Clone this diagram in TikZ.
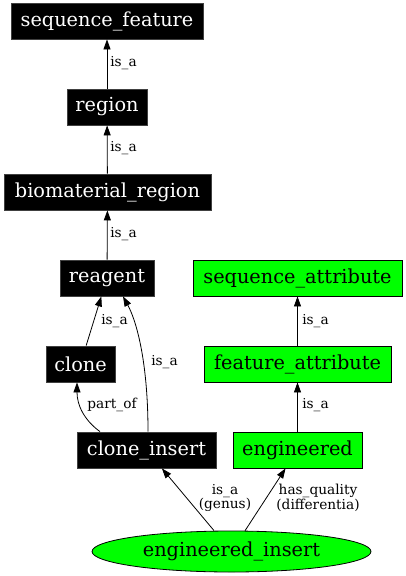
\documentclass[tikz,border=0pt]{standalone}
\usepackage{fontspec}
\usetikzlibrary{arrows.meta,shapes.geometric}
\newfontfamily\gvfont{DejaVu Serif}
\tikzset{
  blackbox/.style={rectangle,fill=black,draw=black!75,line width=0.8pt,text=white,inner sep=0pt,minimum height=36pt,font=\gvfont\fontsize{19.3}{21}\selectfont},
  greenbox/.style={rectangle,fill=green,draw=black,line width=0.8pt,text=black,inner sep=0pt,minimum height=36pt,font=\gvfont\fontsize{19.3}{21}\selectfont},
  greenell/.style={ellipse,fill=green,draw=black,line width=0.8pt,text=black,inner sep=0pt,font=\gvfont\fontsize{19.3}{21}\selectfont},
  edge/.style={draw=black,line width=0.8pt,-{Triangle[length=10pt,width=7pt]}},
  elabel/.style={inner sep=0pt,align=center,font=\gvfont\fontsize{13.7}{14.5}\selectfont}
}
\begin{document}
\begin{tikzpicture}[x=1pt,y=-1pt]
\useasboundingbox (0,0) rectangle (406,576);
\node[blackbox,minimum width=192pt] (sf) at (107,21) {sequence\_feature};
\node[blackbox,minimum width=80pt] (region) at (107,107) {region};
\node[blackbox,minimum width=207pt] (bio) at (107.5,192) {biomaterial\_region};
\node[blackbox,minimum width=94pt] (reagent) at (107,278) {reagent};
\node[blackbox,minimum width=69pt] (clone) at (80.5,364) {clone};
\node[blackbox,minimum width=139pt] (ci) at (146.5,450) {clone\_insert};
\node[greenbox,minimum width=209pt] (sa) at (297.5,278) {sequence\_attribute};
\node[greenbox,minimum width=187pt] (fa) at (297.5,364) {feature\_attribute};
\node[greenbox,minimum width=129pt] (eng) at (297.5,450) {engineered};
\node[greenell,minimum width=279pt,minimum height=41pt] (ei) at (231.5,551.5) {engineered\_insert};

\draw[edge] (region) -- (sf);
\node[elabel] (l1) at (123.5,63) {is\_a};
\draw[edge] (bio) -- (region);
\node[elabel] (l2) at (123.5,148) {is\_a};
\draw[edge] (reagent) -- (bio);
\node[elabel] (l3) at (123.5,234) {is\_a};
\draw[edge] (clone) -- (reagent);
\node[elabel] (l4) at (114.5,321) {is\_a};
\draw[edge] ([xshift=1.5pt]ci.north) .. controls (148,360) and (136,320) .. ([xshift=16pt]reagent.south);
\node[elabel] (l5) at (164.5,362) {is\_a};
\draw[edge] ([xshift=-46.5pt]ci.north) .. controls (84,420) and (77,405) .. ([xshift=-3.5pt]clone.south);
\node[elabel] (l6) at (112,405) {part\_of};
\draw[edge] (fa) -- (sa);
\node[elabel] (l7) at (315.5,321) {is\_a};
\draw[edge] (eng) -- (fa);
\node[elabel] (l8) at (315.5,405) {is\_a};
\draw[edge] (ei) -- (ci);
\node[elabel] (l9) at (225,498) {is\_a\\(genus)};
\draw[edge] (ei) -- (eng);
\node[elabel] (l10) at (318,498) {has\_quality\\(differentia)};
\end{tikzpicture}
\end{document}
